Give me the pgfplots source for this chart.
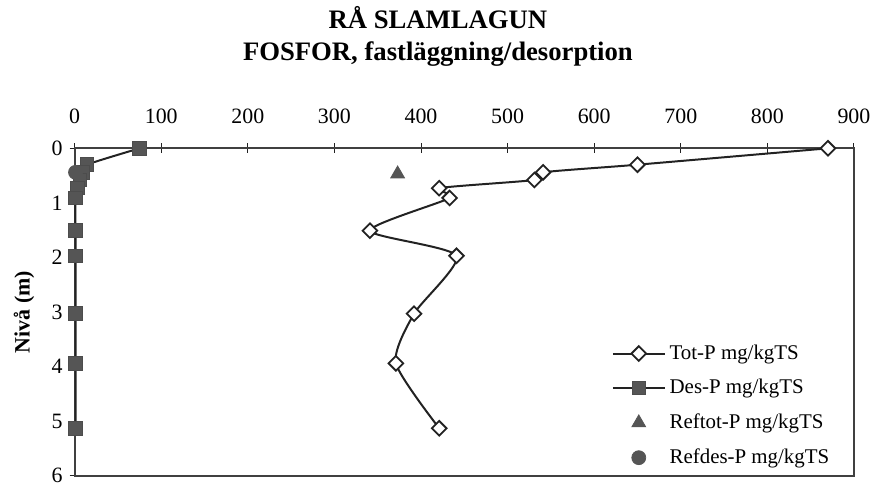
\documentclass[border=0pt]{standalone}
\usepackage{pgfplots}
\pgfplotsset{compat=1.18}
\usepackage{fontspec}
\setmainfont{Liberation Serif}
\definecolor{mk}{HTML}{555555}
\definecolor{ln}{HTML}{222222}
\begin{document}
\begin{tikzpicture}
\begin{axis}[
  at={(0,0)}, anchor=south west,
  scale only axis, width=391.5pt, height=164.5pt,
  xmin=0, xmax=900, ymin=0, ymax=6, y dir=reverse,
  xtick={0,100,...,900}, ytick={0,1,...,6},
  xticklabel pos=upper, xtick pos=upper, ytick pos=left,
  tick align=center, major tick length=5pt,
  tick style={ln, line width=0.5pt},
  axis line style={black!75, line width=0.9pt},
  /pgf/number format/assume math mode=true,
  ticklabel style={font=\fontsize{11}{12}\selectfont},
  xticklabel style={yshift=6.5pt},
  ylabel={Nivå (m)},
  ylabel style={font=\fontsize{11}{12}\selectfont\bfseries, at={(axis description cs:-0.065,0.5)}, anchor=center},
  legend image code/.code={\draw[mark repeat=2,mark phase=2] plot coordinates {(0pt,0pt)(13pt,0pt)(26pt,0pt)};},
  legend style={draw=none, fill=none, at={(axis cs:620,3.52)}, anchor=north west,
    font=\fontsize{10.5}{11}\selectfont, row sep=4.6pt, inner sep=0pt,
    legend cell align=left},
  clip=false,
]
\addplot[ln, line width=1pt, smooth, tension=0.4, mark=square*, mark size=2.6pt,
  mark options={rotate=45, fill=white, draw=ln, line width=0.9pt, solid}]
  coordinates {(870,0) (650,0.30) (541,0.44) (531,0.58) (421,0.73) (433,0.91) (341,1.51) (441,1.97) (392,3.03) (371,3.94) (421,5.13)};
\addlegendentry{Tot-P mg/kgTS}
\addplot[ln, line width=1pt, smooth, tension=0.4, mark=square*, mark size=3.4pt,
  mark options={fill=mk, draw=black!70, line width=0.5pt, solid}]
  coordinates {(75,0) (14,0.30) (9,0.44) (6,0.58) (3,0.73) (1,0.91) (1,1.51) (1,1.97) (1,3.03) (1,3.94) (1,5.13)};
\addlegendentry{Des-P mg/kgTS}
\addplot[only marks, mark=triangle*, mark size=4pt, mark options={fill=mk, draw=mk}]
  coordinates {(373,0.47)};
\addlegendentry{Reftot-P mg/kgTS}
\addplot[only marks, mark=*, mark size=3.5pt, mark options={fill=mk, draw=mk}]
  coordinates {(1,0.44)};
\addlegendentry{Refdes-P mg/kgTS}
\end{axis}
\node[font=\fontsize{13.4}{14}\selectfont\bfseries] at (182.5pt,230pt) {RÅ SLAMLAGUN};
\node[font=\fontsize{13.4}{14}\selectfont\bfseries] at (182.5pt,212pt) {FOSFOR, fastläggning/desorption};
\path[use as bounding box] (-37.5pt,-4pt) rectangle (401.5pt,239pt);
\end{tikzpicture}
\end{document}
